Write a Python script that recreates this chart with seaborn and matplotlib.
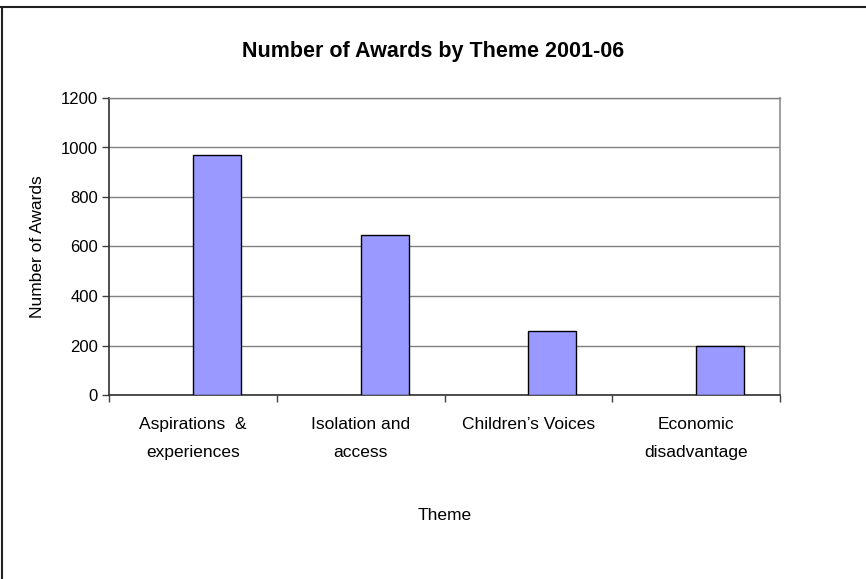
import matplotlib
matplotlib.use("Agg")
import matplotlib.pyplot as plt
from matplotlib.lines import Line2D
from matplotlib.ticker import MultipleLocator, FixedLocator
import seaborn as sns
import pandas as pd

categories = ["Aspirations  &\nexperiences", "Isolation and\naccess",
              "Children\u2019s Voices", "Economic\ndisadvantage"]
awards = [970, 646, 258, 198]
series_name = "Number of Awards"

sns.set_style("white")
plt.rcParams["font.family"] = ["Liberation Sans", "DejaVu Sans"]
plt.rcParams["text.color"] = "black"
plt.rcParams["axes.labelcolor"] = "black"
plt.rcParams["xtick.color"] = "black"
plt.rcParams["ytick.color"] = "black"

df = pd.DataFrame({"Theme": categories, "Awards": awards, "Series": series_name})

fig = plt.figure(figsize=(8.66, 5.79), dpi=100)
ax = fig.add_axes([109/866, 1-395/579, (780-109)/866, (395-98)/579])

sns.barplot(data=df, x="Theme", y="Awards", hue="Series",
            hue_order=["_blank", series_name], order=categories,
            palette={"_blank": "#9999FF", series_name: "#9999FF"},
            saturation=1, width=0.5714, dodge=True, edgecolor="black",
            linewidth=1.0, legend=False, ax=ax, zorder=3)

ax.set_ylim(0, 1200)
ax.set_xlim(-0.5, len(categories) - 0.5)
ax.yaxis.set_major_locator(MultipleLocator(200))
ax.grid(axis="y", color="#808080", linewidth=1.0, zorder=0)
ax.set_axisbelow(True)

ax.xaxis.set_minor_locator(FixedLocator([i - 0.5 for i in range(len(categories) + 1)]))
ax.tick_params(axis="x", which="major", length=0, pad=16, labelsize=12.5)
ax.tick_params(axis="x", which="minor", length=5, width=1, color="#404040", direction="out")
ax.tick_params(axis="y", which="major", length=5, width=1, color="#404040",
               direction="out", labelsize=12, pad=3)
ax.tick_params(bottom=True, left=True, which="both")
plt.setp(ax.get_xticklabels(), linespacing=2.05)

for s in ["left", "bottom"]:
    ax.spines[s].set_color("#303030")
    ax.spines[s].set_linewidth(1.2)
ax.spines["right"].set_color("#909090")
ax.spines["right"].set_linewidth(1.2)
ax.spines["top"].set_color("#808080")
ax.spines["top"].set_linewidth(1.0)

ax.set_xlabel("Theme", fontsize=12.5, labelpad=35)
ax.set_ylabel("Number of Awards", fontsize=12.5, labelpad=11)
fig.text(0.5, 1 - 51/579, "Number of Awards by Theme 2001-06",
         ha="center", va="center", fontsize=15.5, fontweight="bold")

fig.add_artist(Line2D([0, 1], [1 - 6.5/579, 1 - 6.5/579], color="#202020", linewidth=1.5,
                      transform=fig.transFigure))
fig.add_artist(Line2D([1.5/866, 1.5/866], [0, 1 - 6.5/579], color="#202020", linewidth=1.5,
                      transform=fig.transFigure))

fig.savefig("out.png", dpi=100)
